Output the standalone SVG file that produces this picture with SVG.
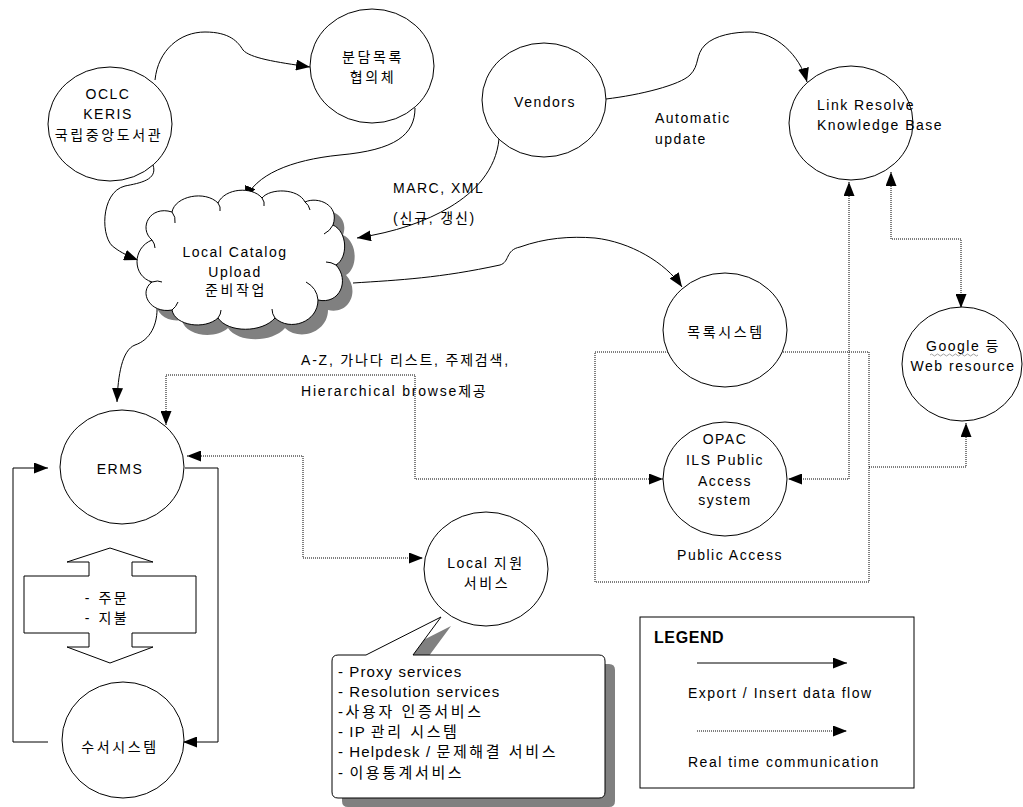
<svg xmlns="http://www.w3.org/2000/svg" width="1023" height="807" viewBox="0 0 1023 807">
<style>
  text { font-family: "Liberation Sans", "Noto Sans CJK KR", sans-serif; font-size: 14px; fill: #000; letter-spacing: 1.5px; }
  .c { text-anchor: middle; }
  .k { letter-spacing: 2.6px; }
  .m { letter-spacing: 1.8px; }
  .node { fill: #fff; stroke: #000; stroke-width: 1; }
  .flow { fill: none; stroke: #000; stroke-width: 1; marker-end: url(#ah); }
  .rt { fill: none; stroke: #000; stroke-width: 1; stroke-dasharray: 1 1; }
  .rt2 { marker-start: url(#ah); marker-end: url(#ah); }
  .rt1 { marker-end: url(#ah); }
  .shadow { fill: #808080; stroke: none; }
  .tick { fill: none; stroke: #000; stroke-width: 1; }
  .co { font-size: 15px; letter-spacing: 1.1px; }
</style>
<defs>
  <marker id="ah" viewBox="0 0 14 11" refX="14" refY="5.5" markerWidth="14" markerHeight="11" markerUnits="userSpaceOnUse" orient="auto-start-reverse">
    <path d="M0,0 L14,5.5 L0,11 Z" fill="#000"/>
  </marker>
  <path id="cloudShape" d="M152,240 C138,228 150,205 172,212 C175,196 205,190 218,203 C225,188 252,186 262,198 C270,188 298,188 305,202 C318,196 340,205 333,225 C348,232 348,258 336,265 C350,280 340,305 318,300 C318,322 290,332 275,318 C262,333 228,333 218,318 C205,330 175,326 172,310 C150,314 138,292 152,282 C132,276 132,248 152,240 Z"/>
  <path id="calloutShape" d="M338,655 L366,655 L441,617 L413,655 L599,655 Q605,655 605,661 L605,792 Q605,798 599,798 L338,798 Q332,798 332,792 L332,661 Q332,655 338,655 Z"/>
</defs>
<rect width="1023" height="807" fill="#fff"/>

<g id="public-access-group">
  <rect x="595" y="352" width="274" height="230" class="rt"/>
  <text x="730" y="560" class="c">Public Access</text>
</g>

<g id="connectors">
  <path class="flow" d="M155,80 C158,50 180,32 205,32 C230,32 238,42 243,50 C250,58 275,62 310,67"/>
  <path class="flow" d="M415,108 C415,135 395,150 340,155 C290,160 255,175 245,200"/>
  <path class="flow" d="M153,165 C158,180 140,183 125,186 C100,192 100,240 115,248 C120,252 130,257 138,260"/>
  <path class="flow" d="M499,139 C496,170 475,192 450,207 C425,222 395,232 357,238"/>
  <path class="flow" d="M606,99 C640,95 680,85 690,75 C700,65 695,55 705,45 C715,35 735,32 750,32 C775,32 800,55 807,82"/>
  <path class="flow" d="M353,283 C400,280 440,278 500,265 C510,262 505,250 520,247 C545,238 570,236 595,238 C630,242 665,262 682,287"/>
  <path class="flow" d="M157,305 C158,325 150,340 135,345 C122,350 118,375 117,402"/>
  <path class="flow" d="M48,742 L13,742 L13,468 L48,468"/>
  <path class="flow" d="M185,468 L218,468 L218,742 L183,742"/>
  <path class="rt rt2" d="M166,425 L166,375 L415,375 L415,479 L663,479"/>
  <path class="rt rt2" d="M187,456 L303,456 L303,558 L423,558"/>
  <path class="rt rt2" d="M849,182 L849,479 L788,479"/>
  <path class="rt rt2" d="M891,172 L891,239 L961,239 L961,308"/>
  <path class="rt rt1" d="M869,467 L966,467 L966,423"/>
</g>

<g id="edge-labels">
  <text x="393" y="193">MARC, XML</text>
  <text x="393" y="223" class="m">(신규, 갱신)</text>
  <text x="655" y="123">Automatic</text>
  <text x="655" y="144">update</text>
  <text x="301" y="365" class="m">A-Z, 가나다 리스트, 주제검색,</text>
  <text x="301" y="396" class="m">Hierarchical browse제공</text>
</g>

<g id="oclc">
  <ellipse cx="110" cy="124" rx="62" ry="57" class="node"/>
  <text x="108" y="99" class="c">OCLC</text>
  <text x="108" y="119" class="c">KERIS</text>
  <text x="109" y="140" class="c k">국립중앙도서관</text>
</g>

<g id="bundam">
  <ellipse cx="372" cy="66" rx="62" ry="57" class="node"/>
  <text x="373" y="62" class="c k">분담목록</text>
  <text x="373" y="82" class="c k">협의체</text>
</g>

<g id="vendors">
  <ellipse cx="544" cy="100" rx="62" ry="57" class="node"/>
  <text x="545" y="107" class="c">Vendors</text>
</g>

<g id="link-resolve">
  <ellipse cx="851" cy="123" rx="62" ry="57" class="node"/>
  <text x="817" y="110">Link Resolve</text>
  <text x="817" y="130">Knowledge Base</text>
</g>

<g id="local-catalog">
  <use href="#cloudShape" class="shadow" transform="translate(10,10)"/>
  <use href="#cloudShape" class="node"/>
  <path class="tick" d="M172,212 q4,5 3,11"/>
  <path class="tick" d="M218,203 q3,4 2,8"/>
  <path class="tick" d="M262,198 q3,4 2,8"/>
  <path class="tick" d="M305,202 q4,3 5,8"/>
  <path class="tick" d="M333,225 q-3,6 -9,9"/>
  <path class="tick" d="M336,265 q-5,-3 -10,-3"/>
  <path class="tick" d="M318,300 q-1,-12 -12,-18"/>
  <path class="tick" d="M275,318 q-3,-4 -3,-9"/>
  <path class="tick" d="M218,318 q3,-4 3,-8"/>
  <path class="tick" d="M172,310 q4,-3 6,-8"/>
  <path class="tick" d="M152,282 q6,-2 10,0"/>
  <path class="tick" d="M152,240 q3,4 3,8"/>
  <text x="235" y="257" class="c">Local Catalog</text>
  <text x="235" y="277" class="c">Upload</text>
  <text x="236" y="295" class="c k">준비작업</text>
</g>

<g id="catalog-system">
  <ellipse cx="725" cy="330" rx="62" ry="57" class="node"/>
  <text x="726" y="337" class="c k">목록시스템</text>
</g>

<g id="opac">
  <ellipse cx="725" cy="479" rx="62" ry="57" class="node"/>
  <text x="725" y="444" class="c">OPAC</text>
  <text x="725" y="465" class="c">ILS Public</text>
  <text x="725" y="486" class="c">Access</text>
  <text x="725" y="505" class="c">system</text>
</g>

<g id="google">
  <ellipse cx="962" cy="364" rx="60" ry="57" class="node"/>
  <text x="963" y="351" class="c">Google 등</text>
  <path d="M930,355 q1.5,-2 3,0 t3,0 t3,0 t3,0 t3,0 t3,0 t3,0 t3,0 t3,0 t3,0 t3,0 t3,0 t3,0 t3,0 t3,0 t3,0" fill="none" stroke="#888" stroke-width="0.8"/>
  <text x="963" y="371" class="c">Web resource</text>
</g>

<g id="erms">
  <ellipse cx="122" cy="467" rx="62" ry="57" class="node"/>
  <text x="120" y="474" class="c">ERMS</text>
</g>

<g id="order-payment">
  <polygon class="node" points="110,548 153,562 132,562 132,576 196,576 196,633 132,633 132,647 153,647 110,663 67,647 89,647 89,633 24,633 24,576 89,576 89,562 67,562"/>
  <text x="107" y="603" class="c k">- 주문</text>
  <text x="107" y="623" class="c k">- 지불</text>
</g>

<g id="acquisition">
  <ellipse cx="123" cy="740" rx="61" ry="58" class="node"/>
  <text x="120" y="752" class="c k">수서시스템</text>
</g>

<g id="local-support">
  <ellipse cx="486" cy="569" rx="62" ry="57" class="node"/>
  <text x="486" y="568" class="c">Local <tspan class="k">지원</tspan></text>
  <text x="487" y="588" class="c k">서비스</text>
</g>

<g id="callout">
  <use href="#calloutShape" class="shadow" transform="translate(10,9)"/>
  <use href="#calloutShape" class="node"/>
  <text x="338" y="677" class="co">- Proxy services</text>
  <text x="338" y="697" class="co">- Resolution services</text>
  <text x="338" y="717" class="co"><tspan class="k">-사용자 인증서비스</tspan></text>
  <text x="338" y="737" class="co">- IP <tspan class="k">관리 시스템</tspan></text>
  <text x="338" y="757" class="co">- Helpdesk / <tspan class="k">문제해결 서비스</tspan></text>
  <text x="338" y="778" class="co">- <tspan class="k">이용통계서비스</tspan></text>
</g>

<g id="legend">
  <rect x="640" y="617" width="274" height="171" fill="#fff" stroke="#000" stroke-width="1"/>
  <text x="654" y="643" style="font-weight:bold;font-size:16px;letter-spacing:0.6px">LEGEND</text>
  <path class="flow" d="M697,663 L847,663"/>
  <text x="688" y="698">Export / Insert data flow</text>
  <path class="rt rt1" d="M697,731 L847,731"/>
  <text x="688" y="767">Real time communication</text>
</g>
</svg>
